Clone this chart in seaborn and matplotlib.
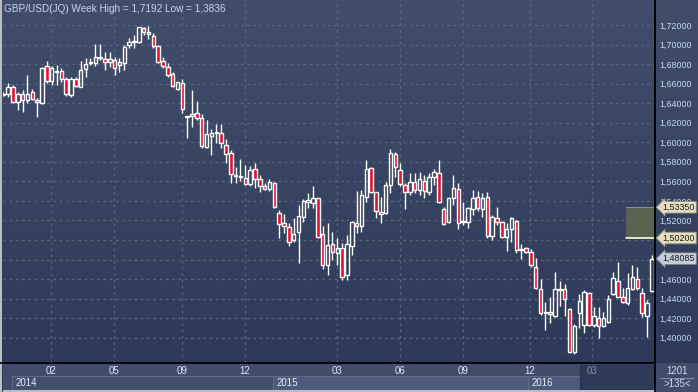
import numpy as np
import matplotlib
matplotlib.use("Agg")
import matplotlib.pyplot as plt
import seaborn as sns
from matplotlib.patches import Rectangle
from matplotlib.colors import LinearSegmentedColormap

# ---------------- data (weekly GBP/USD candles) ----------------
opens = [1.6486, 1.6494, 1.6563, 1.6416, 1.6491, 1.6433, 1.6518, 1.6433, 1.6399, 1.6781,
         1.6628, 1.6720, 1.6730, 1.6648, 1.6484, 1.6648, 1.6569, 1.6747, 1.6812, 1.6809,
         1.6877, 1.6850, 1.6825, 1.6843, 1.6791, 1.6809, 1.6996, 1.7025, 1.7030, 1.7174,
         1.7133, 1.7088, 1.6988, 1.6832, 1.6774, 1.6699, 1.6543, 1.6604, 1.6259, 1.6264,
         1.6297, 1.6245, 1.5955, 1.6068, 1.6092, 1.6092, 1.5972, 1.5887, 1.5655, 1.5645,
         1.5631, 1.5570, 1.5723, 1.5624, 1.5556, 1.5518, 1.5580, 1.5279, 1.5177, 1.5130,
         1.4999, 1.5084, 1.5232, 1.5392, 1.5381, 1.5426, 1.5061, 1.4743, 1.4955, 1.4863,
         1.4914, 1.4641, 1.4941, 1.5171, 1.5146, 1.5437, 1.5734, 1.5488, 1.5283, 1.5273,
         1.5563, 1.5880, 1.5716, 1.5563, 1.5494, 1.5596, 1.5511, 1.5607, 1.5494, 1.5648,
         1.5682, 1.5317, 1.5181, 1.5426, 1.5519, 1.5181, 1.5187, 1.5314, 1.5437, 1.5314,
         1.5443, 1.5040, 1.5222, 1.5181, 1.5027, 1.5109, 1.5194, 1.4902, 1.4921, 1.4873,
         1.4726, 1.4495, 1.4255, 1.4259, 1.4224, 1.4484, 1.4495, 1.4293, 1.3856, 1.4252,
         1.4129, 1.4460, 1.4129, 1.4204, 1.4119, 1.4163, 1.4446, 1.4583, 1.4419, 1.4351,
         1.4495, 1.4600, 1.4454, 1.4221, 1.4480]
highs = [1.6510, 1.6604, 1.6587, 1.6518, 1.6535, 1.6689, 1.6546, 1.6453, 1.6774, 1.6832,
         1.6785, 1.6791, 1.6761, 1.6669, 1.6665, 1.6669, 1.6832, 1.6860, 1.6858, 1.7004,
         1.7004, 1.6928, 1.6928, 1.6877, 1.6860, 1.6996, 1.7065, 1.7099, 1.7180, 1.7184,
         1.7192, 1.7115, 1.6996, 1.6877, 1.6809, 1.6723, 1.6621, 1.6648, 1.6269, 1.6535,
         1.6423, 1.6286, 1.6228, 1.6133, 1.6184, 1.6184, 1.6031, 1.5921, 1.5744, 1.5826,
         1.5767, 1.5757, 1.5784, 1.5665, 1.5587, 1.5624, 1.5596, 1.5307, 1.5266, 1.5171,
         1.5222, 1.5358, 1.5416, 1.5484, 1.5552, 1.5433, 1.5143, 1.5171, 1.5084, 1.5017,
         1.4972, 1.5051, 1.5194, 1.5501, 1.5511, 1.5819, 1.5750, 1.5494, 1.5443, 1.5596,
         1.5931, 1.5904, 1.5785, 1.5580, 1.5682, 1.5682, 1.5693, 1.5665, 1.5682, 1.5723,
         1.5819, 1.5334, 1.5443, 1.5665, 1.5580, 1.5392, 1.5340, 1.5511, 1.5504, 1.5478,
         1.5494, 1.5255, 1.5340, 1.5194, 1.5171, 1.5238, 1.5204, 1.4958, 1.4931, 1.4907,
         1.4812, 1.4597, 1.4368, 1.4419, 1.4669, 1.4580, 1.4546, 1.4306, 1.4136, 1.4446,
         1.4487, 1.4470, 1.4316, 1.4316, 1.4265, 1.4436, 1.4675, 1.4777, 1.4505, 1.4658,
         1.4743, 1.4726, 1.4505, 1.4385, 1.4846]
lows = [1.6474, 1.6467, 1.6399, 1.6331, 1.6313, 1.6405, 1.6433, 1.6259, 1.6392, 1.6604,
        1.6587, 1.6587, 1.6617, 1.6474, 1.6467, 1.6563, 1.6563, 1.6672, 1.6791, 1.6781,
        1.6843, 1.6740, 1.6774, 1.6689, 1.6723, 1.6740, 1.6961, 1.6961, 1.7021, 1.7099,
        1.7054, 1.6961, 1.6809, 1.6758, 1.6665, 1.6563, 1.6535, 1.6297, 1.6047, 1.6160,
        1.6228, 1.5938, 1.5938, 1.5870, 1.5997, 1.5938, 1.5785, 1.5586, 1.5586, 1.5607,
        1.5562, 1.5552, 1.5535, 1.5494, 1.5511, 1.5501, 1.5324, 1.5023, 1.5068, 1.4941,
        1.4982, 1.4761, 1.5187, 1.5330, 1.5324, 1.5017, 1.4699, 1.4641, 1.4795, 1.4743,
        1.4590, 1.4590, 1.4846, 1.5068, 1.5084, 1.5392, 1.5478, 1.5228, 1.5171, 1.5266,
        1.5484, 1.5648, 1.5552, 1.5317, 1.5460, 1.5478, 1.5460, 1.5426, 1.5460, 1.5563,
        1.5375, 1.5153, 1.5171, 1.5358, 1.5109, 1.5153, 1.5119, 1.5255, 1.5299, 1.5232,
        1.5017, 1.4999, 1.5153, 1.5017, 1.4890, 1.4982, 1.4863, 1.4802, 1.4863, 1.4726,
        1.4498, 1.4231, 1.4078, 1.4146, 1.4214, 1.4324, 1.4224, 1.3846, 1.3836, 1.4098,
        1.4047, 1.4119, 1.4112, 1.3999, 1.4112, 1.4153, 1.4436, 1.4413, 1.4351, 1.4334,
        1.4487, 1.4487, 1.4214, 1.4003, 1.4470]
closes = [1.6494, 1.6563, 1.6416, 1.6491, 1.6433, 1.6494, 1.6443, 1.6407, 1.6758, 1.6628,
          1.6758, 1.6725, 1.6648, 1.6491, 1.6648, 1.6576, 1.6740, 1.6798, 1.6822, 1.6877,
          1.6860, 1.6819, 1.6850, 1.6758, 1.6825, 1.6979, 1.7025, 1.7041, 1.7184, 1.7127,
          1.7107, 1.6988, 1.6819, 1.6781, 1.6689, 1.6576, 1.6614, 1.6339, 1.6264, 1.6285,
          1.6245, 1.5962, 1.6085, 1.6092, 1.6109, 1.5990, 1.5877, 1.5672, 1.5660, 1.5652,
          1.5573, 1.5716, 1.5624, 1.5556, 1.5518, 1.5590, 1.5334, 1.5160, 1.5146, 1.4982,
          1.5061, 1.5245, 1.5399, 1.5409, 1.5426, 1.5027, 1.4743, 1.4948, 1.4873, 1.4914,
          1.4624, 1.4955, 1.5187, 1.5146, 1.5460, 1.5723, 1.5488, 1.5296, 1.5266, 1.5563,
          1.5887, 1.5744, 1.5570, 1.5488, 1.5590, 1.5511, 1.5621, 1.5501, 1.5641, 1.5693,
          1.5385, 1.5163, 1.5426, 1.5535, 1.5171, 1.5197, 1.5324, 1.5433, 1.5324, 1.5426,
          1.5040, 1.5232, 1.5187, 1.5033, 1.5109, 1.5222, 1.4897, 1.4907, 1.4873, 1.4743,
          1.4511, 1.4249, 1.4259, 1.4239, 1.4495, 1.4495, 1.4395, 1.3856, 1.4119, 1.4378,
          1.4470, 1.4129, 1.4221, 1.4119, 1.4198, 1.4392, 1.4607, 1.4419, 1.4361, 1.4505,
          1.4617, 1.4505, 1.4255, 1.4351, 1.48085]

title = "GBP/USD(JQ) Week High = 1,7192 Low = 1,3836"
price_ticks = [1.40, 1.42, 1.44, 1.46, 1.48, 1.50, 1.52, 1.54, 1.56, 1.58,
               1.60, 1.62, 1.64, 1.66, 1.68, 1.70, 1.72]
hidden_ticks = [1.48, 1.50]          # covered by the price markers in the reference
month_labels = ["02", "05", "09", "12", "03", "06", "09", "12", "03"]
month_pos = [9.86, 22.87, 36.92, 49.94, 68.95, 81.96, 94.98, 108.8, 121.6]
year_labels = ["2014", "2015", "2016"]
year_start = [1.8, 55.7, 108.4]
zone_levels = [1.5335, 1.5020]
zone_labels = ["1,53350", "1,50200"]
last_label = "1,48085"
bars_info = ["1201", ">135<"]

# ---------------- style ----------------
sns.set_style("dark")
plt.rcParams["font.family"] = ["Liberation Sans", "DejaVu Sans"]

W, H = 698, 392
fig = plt.figure(figsize=(W / 100, H / 100), dpi=100)

def fx(px):
    return px / W

def fy(py):
    return 1 - py / H

# background gradient
bg = fig.add_axes([0, 0, 1, 1])
bg.set_axis_off()
grad = np.linspace(0, 1, 256).reshape(-1, 1)
cmap = LinearSegmentedColormap.from_list("bgc", ["#414e6b", "#2b3857"])
bg.imshow(grad, aspect="auto", cmap=cmap, extent=[0, 1, 0, 1], origin="upper")
bg.set_xlim(0, 1)
bg.set_ylim(0, 1)

# main axes
XMIN, XMAX = -0.062, 134.65
YMIN, YMAX = 1.37407, 1.7456
ax = fig.add_axes([fx(3), fy(363), fx(652), 363 / H])
ax.patch.set_alpha(0)
ax.set_xlim(XMIN, XMAX)
ax.set_ylim(YMIN, YMAX)

o = np.array(opens); h = np.array(highs); l = np.array(lows); c = np.array(closes)
x = np.arange(len(o))
up = c >= o
btop = np.maximum(o, c)
bbot = np.minimum(o, c)
bh = np.maximum(btop - bbot, 0.0003)

ax.vlines(x, btop, h, color="white", lw=1.0, zorder=3)
ax.vlines(x, l, bbot, color="white", lw=1.0, zorder=3)
ax.bar(x[~up], bh[~up], bottom=bbot[~up], width=0.72, color="#e3102d",
       edgecolor="white", linewidth=1.0, zorder=4)
ax.bar(x[up], bh[up], bottom=bbot[up], width=0.72, color="none",
       edgecolor="white", linewidth=1.0, zorder=4)

# grid and price axis
ax.set_yticks(price_ticks)
ax.set_yticklabels(["" if v in hidden_ticks else f"{v:.5f}".replace(".", ",")
                    for v in price_ticks])
ax.set_xticks(month_pos)
ax.set_xticklabels([])
ax.grid(True, color="#5b6884", ls=(0, (2, 3)), lw=0.9)
ax.yaxis.tick_right()
ax.tick_params(axis="y", length=0, pad=3.2, labelsize=6.4, labelcolor="#c9d9f4")
ax.tick_params(axis="x", length=0)
for s in ["top", "left"]:
    ax.spines[s].set_visible(False)
ax.spines["right"].set_color("black")
ax.spines["right"].set_linewidth(1.3)
ax.spines["bottom"].set_color("black")
ax.spines["bottom"].set_linewidth(1.3)

# zone rectangle and price markers
zx0 = 128.7
ax.add_patch(Rectangle((zx0, zone_levels[1]), XMAX - zx0, zone_levels[0] - zone_levels[1],
                       fc="#59624f", ec="none", zorder=2))
ax.plot([zx0, XMAX], [zone_levels[1]] * 2, color="#f4f0d8", lw=1.3, zorder=2.5)
ax.plot([zx0, XMAX], [zone_levels[0]] * 2, color="#8a917c", lw=0.8, zorder=2.5)
ytr = ax.get_yaxis_transform()
xt = 1.0 + 7.5 / 652
for lv, lb in zip(zone_levels, zone_labels):
    ax.text(xt, lv, lb, transform=ytr, ha="left", va="center", fontsize=6.4,
            color="#1a1a1a", clip_on=False, zorder=6,
            bbox=dict(boxstyle="larrow,pad=0.15", fc="#e6dfbf", ec="#8d8a78", lw=0.6))
ax.text(xt, closes[-1], last_label, transform=ytr, ha="left", va="center", fontsize=6.4,
        color="#1a1a1a", clip_on=False, zorder=6,
        bbox=dict(boxstyle="larrow,pad=0.15", fc="#c8ccd6", ec="#7d8290", lw=0.6))

# title
fig.text(fx(4), fy(8.5), title, ha="left", va="center", fontsize=7.2, color="#cad4ea")

# bottom band (x in candle units, y in pixel rows)
band = fig.add_axes([fx(3), 0, fx(652), 28.5 / H])
band.set_xlim(XMIN, XMAX)
band.set_ylim(392, 363.5)
band.set_axis_off()
band.add_patch(Rectangle((XMIN, 363.5), XMAX - XMIN, 28.5, fc="#3f4c6a", ec="none"))
ends = year_start[1:] + [119.2]
fills = ["#43506e", "#4d5a79", "#4d5a79"]
for ys, ye, lb, fc in zip(year_start, ends, year_labels, fills):
    band.add_patch(Rectangle((ys, 376), ye - ys, 14, fc=fc, ec="#5e6b89", lw=0.8))
    band.text(ys + 0.8, 383, lb, ha="left", va="center", fontsize=7, color="#e6ebf6")
band.add_patch(Rectangle((119.2, 365), XMAX - 119.2, 25.5, fc="#2d3a58", ec="#26324e", lw=0.8))
band.add_patch(Rectangle((XMIN, 390), XMAX - XMIN, 2, fc="#b9bdc7", ec="none"))
for i, (mp, ml) in enumerate(zip(month_pos, month_labels)):
    col = "#7f8ba6" if mp > 119.2 else "#e2e8f4"
    band.text(mp, 371, ml, ha="center", va="center", fontsize=7, color=col)

# right bottom info box
fig.add_artist(Rectangle((fx(655), 0), fx(43), 29 / H, transform=fig.transFigure,
                         fc="#3f4c6a", ec="none"))
fig.add_artist(plt.Line2D([fx(660), fx(694)], [fy(377.5)] * 2, transform=fig.transFigure,
                          color="#8f9ab2", lw=0.6))
fig.text(fx(677), fy(371), bars_info[0], ha="center", va="center", fontsize=7, color="#d2dcf0")
fig.text(fx(677), fy(384), bars_info[1], ha="center", va="center", fontsize=7, color="#d2dcf0")
fig.add_artist(plt.Line2D([fx(655), fx(655)], [0, 1], transform=fig.transFigure,
                          color="black", lw=1.3))
fig.add_artist(plt.Line2D([0, fx(655)], [fy(363)] * 2, transform=fig.transFigure,
                          color="black", lw=1.3))
# left border
fig.add_artist(Rectangle((0, 0), fx(2), 1, transform=fig.transFigure, fc="#b9bdc7", ec="none"))

fig.savefig("out.png", dpi=100)
